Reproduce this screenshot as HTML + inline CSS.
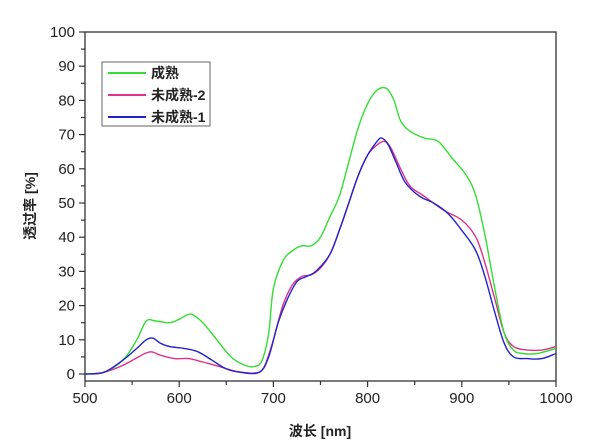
<!DOCTYPE html>
<html><head><meta charset="utf-8"><style>
body{margin:0;background:#fff;}
svg{display:block;font-family:"Liberation Sans","Noto Sans CJK SC",sans-serif;}
</style></head><body>
<svg id="s" width="608" height="447" viewBox="0 0 608 447">
<rect x="85" y="32" width="471" height="349" fill="none" stroke="#333" stroke-width="1.3"/>
<g id="ticks" stroke="#333" stroke-width="1.2"></g>
<g id="labels" font-size="15" fill="#222"></g>
<g id="curves" fill="none" stroke-width="1.4"></g>
<rect x="102" y="62" width="108" height="64" fill="#fff" stroke="#666" stroke-width="1"/>
<line x1="108" y1="73" x2="146" y2="73" stroke="#33dd33" stroke-width="2"/>
<line x1="108" y1="95" x2="146" y2="95" stroke="#dd3388" stroke-width="2"/>
<line x1="108" y1="117" x2="146" y2="117" stroke="#2222cc" stroke-width="2"/>
<text x="151" y="78" font-size="14" font-weight="bold" fill="#222">成熟</text>
<text x="151" y="100" font-size="14" font-weight="bold" fill="#222">未成熟-2</text>
<text x="151" y="122" font-size="14" font-weight="bold" fill="#222">未成熟-1</text>
<text x="320" y="436" font-size="14" font-weight="bold" fill="#222" text-anchor="middle">波长 [nm]</text>
<text transform="translate(35,206) rotate(-90)" font-size="14" font-weight="bold" fill="#222" text-anchor="middle">透过率 [%]</text>
</svg>
<script>
var X=function(v){return 85+(v-500)*471/500;},Y=function(v){return 374-v*3.42;};
var t=document.getElementById('ticks'),l=document.getElementById('labels'),ns='http://www.w3.org/2000/svg';
function el(p,tag,a,txt){var e=document.createElementNS(ns,tag);for(var k in a)e.setAttribute(k,a[k]);if(txt)e.textContent=txt;p.appendChild(e);}
for(var v=0;v<=100;v+=5){var y=Y(v);el(t,'line',{x1:v%10?81:79,x2:85,y1:y,y2:y});if(v%10==0)el(l,'text',{x:75,y:y+5,'text-anchor':'end'},String(v));}
for(var v=500;v<=1000;v+=50){var x=X(v);el(t,'line',{x1:x,x2:x,y1:381,y2:v%100?385:387});if(v%100==0)el(l,'text',{x:x,y:403,'text-anchor':'middle'},String(v));}
var G=[500,0,520,0.5,540,4,555,10,565,15.5,575,15.5,590,15,600,16,612,17.5,625,15,640,10,655,5,670,2.5,680,2.2,688,4,695,12,700,25,710,33,720,36,730,37.5,740,37.5,750,40,760,46,770,52,780,62,790,72,800,79,810,83,820,83.5,828,80,835,74,845,71,860,69,875,68,890,63,905,58,915,52,925,40,935,25,945,12,955,7,965,6,980,6,1000,7.5];
var P=[500,0,520,0.5,540,2.5,560,5.5,570,6.5,580,5.5,595,4.5,610,4.5,625,3.5,645,2,660,0.8,680,0.3,690,2,700,10,710,20,720,26,730,28.5,740,29,750,31,760,35,770,42,780,50,790,58,800,64,810,67,818,68,825,66,835,60,845,55,860,52,880,48,900,45,915,40,925,32,935,22,945,12,955,8,970,7,985,7,1000,8];
var B=[500,0,520,0.5,540,4,555,7.5,565,10,572,10.5,580,9,590,8,605,7.5,620,6.5,635,4,650,1.5,665,0.5,685,0.5,695,5,705,15,715,22,725,27,735,28.5,745,30,760,35,770,42,780,50,790,58,800,64,810,68,815,69,822,67,830,62,840,56,855,52,870,50,885,47,900,42,915,36,925,28,935,18,945,9,955,5,970,4.5,985,4.5,1000,6];
var c=document.getElementById('curves');
function smooth(d){var pts=[];for(var i=0;i<d.length;i+=2)pts.push([X(d[i]),Y(d[i+1])]);
var p='M'+pts[0][0].toFixed(1)+','+pts[0][1].toFixed(1);
for(var i=0;i<pts.length-1;i++){var p0=pts[i-1]||pts[i],p1=pts[i],p2=pts[i+1],p3=pts[i+2]||p2;
var c1=[p1[0]+(p2[0]-p0[0])/6,p1[1]+(p2[1]-p0[1])/6],c2=[p2[0]-(p3[0]-p1[0])/6,p2[1]-(p3[1]-p1[1])/6];
p+='C'+c1[0].toFixed(1)+','+c1[1].toFixed(1)+' '+c2[0].toFixed(1)+','+c2[1].toFixed(1)+' '+p2[0].toFixed(1)+','+p2[1].toFixed(1);}
return p;}
[[P,'#dd3388'],[G,'#33dd33'],[B,'#2222cc']].forEach(function(s){el(c,'path',{d:smooth(s[0]),stroke:s[1],'stroke-linejoin':'round'});});
</script>
</body></html>
